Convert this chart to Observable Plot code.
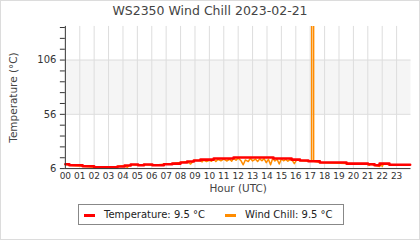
<!DOCTYPE html>
<html><head><meta charset="utf-8">
<script src="https://cdn.jsdelivr.net/npm/d3@7"></script>
<script src="https://cdn.jsdelivr.net/npm/@observablehq/plot@0.6"></script>
<style>
body{margin:0;background:#fff;font-family:"DejaVu Sans",sans-serif;}
#wrap{position:relative;width:420px;height:240px;box-sizing:border-box;border:1px solid #dcdcdc;overflow:hidden;background:#fff;}
#title{position:absolute;left:-1px;width:420px;top:2px;text-align:center;font-size:12.5px;color:#444;line-height:16px;}
#chart{position:absolute;left:-1px;top:-1px;}
#legend{position:absolute;left:77px;top:203px;width:266px;height:21px;border:1px solid #888;box-sizing:border-box;font-size:10px;color:#222;}
.sw{position:absolute;top:9px;width:11px;height:2.5px;}
.lt{position:absolute;top:3px;line-height:13px;white-space:nowrap;}
</style>
</head><body>
<div id="wrap">
<div id="chart"></div>
<div id="title">WS2350 Wind Chill 2023-02-21</div>
<div id="legend">
 <div class="sw" style="left:5px;background:#ff0000"></div><div class="lt" style="left:25px">Temperature: 9.5 °C</div>
 <div class="sw" style="left:146px;background:#ff8c00"></div><div class="lt" style="left:166px">Wind Chill: 9.5 °C</div>
</div>
</div>
<script>
const hourLabels = d3.range(0, 24).map(h => String(h).padStart(2, "0"));
const yMajorTicks = [6, 56, 106];
const yMinorTicks = d3.range(6, 137, 10);

const tempHours  = [0, 0.28, 1.2, 2.0, 3.62, 4.12, 4.54, 5.05, 5.46, 6.04, 6.84, 7.42, 8.0, 8.46, 8.92, 9.38, 10.3, 11.68, 14.45, 15.71, 16.29, 16.87, 17.67, 19.52, 21.01, 21.47, 21.82, 22.5, 23.94];
const tempValues = [10.0, 9.1, 8.2, 7.2, 7.9, 8.8, 9.7, 9.1, 9.7, 9.1, 10.0, 10.6, 11.6, 12.5, 13.4, 14.3, 15.3, 16.2, 15.3, 14.3, 13.4, 12.8, 11.6, 10.6, 10.0, 9.1, 10.6, 9.5, 9.5];

const wcHours  = [0, 0.28, 1.2, 2.0, 3.62, 4.12, 4.3, 4.42, 4.54, 5.05, 5.46, 6.04, 6.84, 7.42, 8.0, 8.46, 8.7, 8.85, 8.92, 9.38, 9.5, 9.6, 9.8, 10.0, 10.15, 10.3, 10.45, 10.6, 10.8, 11.0, 11.2, 11.4, 11.55, 11.68, 11.85, 12.0, 12.2, 12.35, 12.5, 12.7, 12.85, 13.0, 13.2, 13.35, 13.5, 13.65, 13.8, 13.95, 14.1, 14.25, 14.4, 14.55, 14.7, 14.85, 15.0, 15.15, 15.3, 15.45, 15.6, 15.75, 15.9, 16.05, 16.29, 16.87, 17.1, 17.17, 17.24, 17.67, 19.52, 21.01, 21.1, 21.2, 21.47, 21.82, 21.9, 22.0, 22.1, 22.5, 23.94];
const wcValues = [10.0, 9.1, 8.2, 7.2, 7.9, 8.8, 7.0, 8.8, 9.7, 9.1, 9.7, 9.1, 10.0, 10.6, 11.6, 12.5, 10.2, 12.5, 13.4, 13.4, 12.2, 13.8, 12.5, 13.6, 12.8, 14.8, 12.6, 14.5, 13.2, 14.8, 13.0, 14.6, 12.8, 15.5, 13.8, 15.6, 13.2, 9.5, 14.0, 12.5, 15.5, 13.0, 14.8, 12.6, 15.0, 13.2, 15.2, 11.5, 14.5, 9.5, 15.5, 13.0, 14.6, 10.2, 14.8, 13.2, 14.5, 12.8, 14.2, 13.5, 10.5, 13.8, 13.4, 12.8, 12.8, 5000, 12.8, 11.6, 10.6, 10.0, 9.0, 10.0, 9.1, 8.0, 10.6, 8.0, 10.6, 9.5, 9.5];

const temp = tempHours.map((h, i) => ({h, v: tempValues[i]}));
const wc = wcHours.map((h, i) => ({h, v: wcValues[i]}));

const chart = Plot.plot({
  width: 420,
  height: 200,
  marginLeft: 65,
  marginRight: 8.5,
  marginTop: 26,
  marginBottom: 31.5,
  style: {fontFamily: "DejaVu Sans, sans-serif", background: "transparent", color: "#333"},
  x: {domain: [0, 24]},
  y: {domain: [6, 137]},
  marks: [
    Plot.rect([{x1: 0, x2: 24, y1: 56, y2: 106}], {x1: "x1", x2: "x2", y1: "y1", y2: "y2", fill: "#f5f5f5"}),
    Plot.ruleX(d3.range(1, 24), {stroke: "#dddddd", strokeWidth: 1}),
    Plot.ruleY([56, 106], {stroke: "#dddddd", strokeWidth: 1}),
    Plot.line(wc, {x: "h", y: "v", stroke: "#ff8c00", strokeWidth: 1.5, clip: true}),
    Plot.line(temp, {x: "h", y: "v", curve: "step-after", stroke: "#ff0000", strokeWidth: 2.6}),
    Plot.axisY({ticks: yMinorTicks, tickFormat: d => yMajorTicks.includes(d) ? String(d) : "", tickSize: 5, tickPadding: 4, fontSize: 10, label: null, stroke: "#333"}),
    Plot.axisX({ticks: d3.range(0, 24), tickFormat: d => hourLabels[d], tickSize: 0, tickPadding: 4, fontSize: 9, label: null}),
    Plot.ruleX([0], {stroke: "#333"}),
    Plot.ruleY([6], {stroke: "#333"}),
    Plot.text(["Temperature (°C)"], {frameAnchor: "left", textAnchor: "middle", lineAnchor: "middle", rotate: -90, dx: -52, fontSize: 10.5, fill: "#444"}),
    Plot.text(["Hour (UTC)"], {frameAnchor: "bottom", textAnchor: "middle", lineAnchor: "middle", dy: 20, fontSize: 10.5, fill: "#444"})
  ]
});
document.getElementById("chart").appendChild(chart);
</script>
</body></html>
